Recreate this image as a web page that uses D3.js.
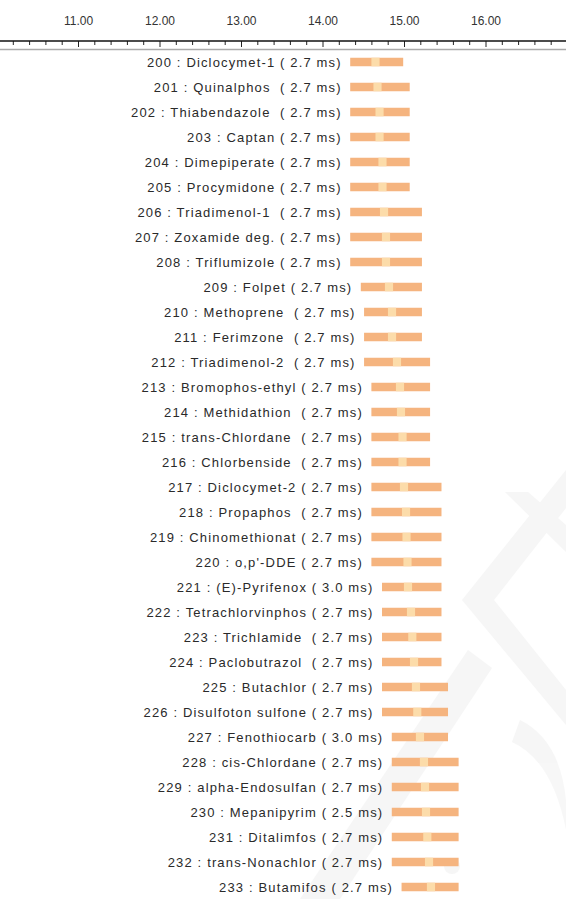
<!DOCTYPE html>
<html>
<head>
<meta charset="utf-8">
<script src="https://cdn.jsdelivr.net/npm/d3@7"></script>
<style>
  body { margin: 0; background: #fff; }
  svg text { font-family: "Liberation Sans", Arial, sans-serif; }
</style>
</head>
<body>
<div id="chart"></div>
<script>
// compound labels (index : name ( dwell ))
const labels = [
  '200 : Diclocymet-1 ( 2.7 ms)', '201 : Quinalphos  ( 2.7 ms)', '202 : Thiabendazole  ( 2.7 ms)',
  '203 : Captan ( 2.7 ms)', '204 : Dimepiperate ( 2.7 ms)', '205 : Procymidone ( 2.7 ms)',
  '206 : Triadimenol-1  ( 2.7 ms)', '207 : Zoxamide deg. ( 2.7 ms)', '208 : Triflumizole ( 2.7 ms)',
  '209 : Folpet ( 2.7 ms)', '210 : Methoprene  ( 2.7 ms)', '211 : Ferimzone  ( 2.7 ms)',
  '212 : Triadimenol-2  ( 2.7 ms)', '213 : Bromophos-ethyl ( 2.7 ms)', '214 : Methidathion  ( 2.7 ms)',
  '215 : trans-Chlordane  ( 2.7 ms)', '216 : Chlorbenside  ( 2.7 ms)', '217 : Diclocymet-2 ( 2.7 ms)',
  '218 : Propaphos  ( 2.7 ms)', '219 : Chinomethionat ( 2.7 ms)', '220 : o,p\'-DDE ( 2.7 ms)',
  '221 : (E)-Pyrifenox ( 3.0 ms)', '222 : Tetrachlorvinphos ( 2.7 ms)', '223 : Trichlamide  ( 2.7 ms)',
  '224 : Paclobutrazol  ( 2.7 ms)', '225 : Butachlor ( 2.7 ms)', '226 : Disulfoton sulfone ( 2.7 ms)',
  '227 : Fenothiocarb ( 3.0 ms)', '228 : cis-Chlordane ( 2.7 ms)', '229 : alpha-Endosulfan ( 2.7 ms)',
  '230 : Mepanipyrim ( 2.5 ms)', '231 : Ditalimfos ( 2.7 ms)', '232 : trans-Nonachlor ( 2.7 ms)',
  '233 : Butamifos ( 2.7 ms)'
];

// window start / end (min)
const winStart = [
  14.34, 14.34, 14.34, 14.34, 14.34, 14.34, 14.34, 14.34, 14.34,
  14.47, 14.51, 14.51, 14.51, 14.60, 14.60, 14.60, 14.60, 14.60,
  14.60, 14.60, 14.60, 14.73, 14.73, 14.73, 14.73, 14.73, 14.73,
  14.85, 14.85, 14.85, 14.85, 14.85, 14.85, 14.97
];
const winEnd = [
  14.99, 15.07, 15.07, 15.07, 15.07, 15.07, 15.22, 15.22, 15.22,
  15.22, 15.22, 15.22, 15.32, 15.32, 15.32, 15.32, 15.32, 15.46,
  15.46, 15.46, 15.46, 15.46, 15.46, 15.46, 15.46, 15.54, 15.54,
  15.54, 15.67, 15.67, 15.67, 15.67, 15.67, 15.67
];
// retention time (min)
const retTime = [
  14.65, 14.675, 14.70, 14.70, 14.736, 14.736, 14.755, 14.779, 14.779,
  14.816, 14.853, 14.853, 14.914, 14.951, 14.963, 14.982, 14.982, 15.00,
  15.025, 15.031, 15.043, 15.049, 15.086, 15.102, 15.123, 15.147, 15.163,
  15.196, 15.245, 15.258, 15.27, 15.286, 15.307, 15.331
];
const rtHalf = 0.05;
const majorTicks = [11, 12, 13, 14, 15, 16];

const width = 566, height = 899;
const rows = labels.map((l, i) => ({ label: l, s: winStart[i], e: winEnd[i], rt: retTime[i] }));

const svg = d3.select('#chart').append('svg')
  .attr('width', width).attr('height', height);

// faint watermark shapes
const wm = svg.append('g').attr('fill', '#000').attr('opacity', 0.03);
wm.append('path').attr('d', 'M566,470 L462,600 L566,725 L566,690 L494,600 L566,508 Z');
wm.append('path').attr('d', 'M505,492 L528,492 L566,525 L566,552 Z');
wm.append('path').attr('d', 'M300,899 L468,650 L492,668 L340,899 Z');
wm.append('circle').attr('cx', 452).attr('cy', 866).attr('r', 8);
wm.append('path').attr('d', 'M520,720 Q560,740 566,800 L566,830 Q552,760 512,742 Z');

const x = d3.scaleLinear().domain([11, 16]).range([78, 485.5]);
const y = d3.scaleBand().domain(rows.map(d => d.label)).range([49.5, 899.5]).paddingInner(0.66).paddingOuter(0.33);

// axis: labels on top
svg.append('g')
  .attr('transform', 'translate(0,28)')
  .call(d3.axisTop(x).tickValues(majorTicks).tickFormat(d3.format('.2f')).tickSize(0))
  .call(g => g.select('.domain').remove())
  .call(g => g.selectAll('text').attr('font-size', 12).attr('fill', '#333').attr('font-family', '"Liberation Sans", Arial, sans-serif'));

// minor ticks
const minor = d3.range(10, 17.01, 0.2).map(v => +v.toFixed(1)).filter(v => !majorTicks.includes(v));
svg.append('g')
  .attr('transform', 'translate(0,41)')
  .call(d3.axisBottom(x).tickValues(minor).tickSize(4).tickFormat(''))
  .call(g => g.select('.domain').remove())
  .call(g => g.selectAll('line').attr('stroke', '#222'));
svg.append('g')
  .attr('transform', 'translate(0,41)')
  .call(d3.axisBottom(x).tickValues([10, ...majorTicks, 17]).tickSize(6).tickFormat(''))
  .call(g => g.select('.domain').remove())
  .call(g => g.selectAll('line').attr('stroke', '#222'));

svg.append('line').attr('x1', 0).attr('x2', width).attr('y1', 41).attr('y2', 41)
  .attr('stroke', '#111').attr('stroke-width', 1.5);
svg.append('line').attr('x1', 0).attr('x2', width).attr('y1', 49.5).attr('y2', 49.5)
  .attr('stroke', '#aaa').attr('stroke-width', 1.5);

const row = svg.append('g').selectAll('g').data(rows).enter().append('g');

row.append('rect')
  .attr('x', d => x(d.s))
  .attr('y', d => y(d.label))
  .attr('width', d => x(d.e) - x(d.s))
  .attr('height', y.bandwidth())
  .attr('fill', '#f5b47f');

row.append('rect')
  .attr('x', d => x(d.rt - rtHalf))
  .attr('y', d => y(d.label))
  .attr('width', d => x(d.rt + rtHalf) - x(d.rt - rtHalf))
  .attr('height', y.bandwidth())
  .attr('fill', '#fcdcaa');

row.append('text')
  .attr('x', d => x(d.s) - 8.5)
  .attr('y', d => y(d.label) + y.bandwidth() / 2 + 4.5)
  .attr('text-anchor', 'end')
  .attr('font-size', 13)
  .attr('letter-spacing', 1.15)
  .attr('fill', '#2a2a2a')
  .style('white-space', 'pre')
  .text(d => d.label);
</script>
</body>
</html>
